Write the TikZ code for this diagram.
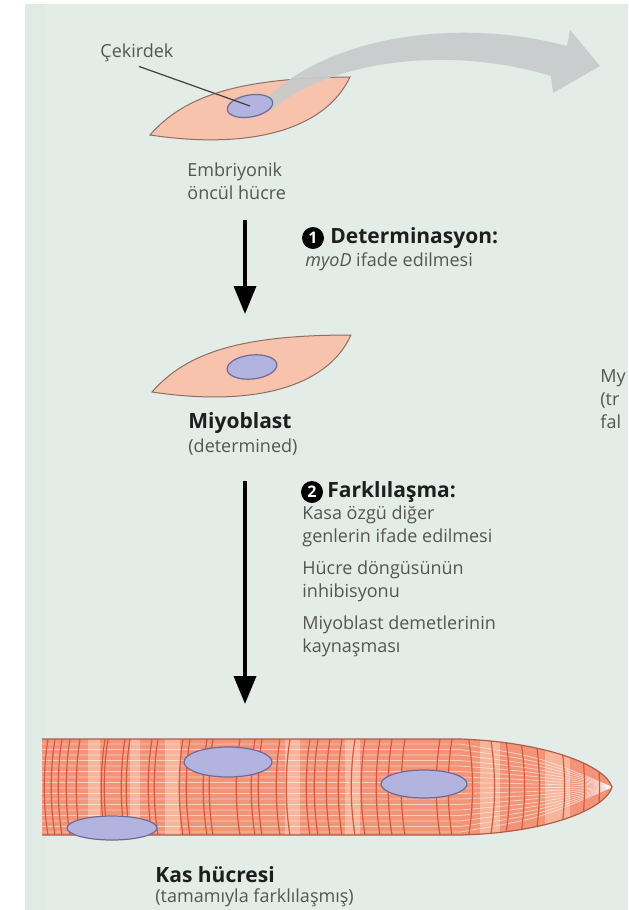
\documentclass[tikz,border=0pt]{standalone}
\usepackage{fontspec}
\setmainfont{Open Sans}
\usepackage{tikz}
\usetikzlibrary{arrows.meta, shapes.geometric}

\definecolor{bgcol}{HTML}{E3ECE6}
\definecolor{bgedge}{HTML}{DFEBE4}
\definecolor{txtgray}{HTML}{555555}
\definecolor{headcol}{HTML}{1E1E1E}
\definecolor{cellfill}{HTML}{F8C3AC}
\definecolor{celledge}{HTML}{8C6E64}
\definecolor{nucfill}{HTML}{B3B3E0}
\definecolor{nucedge}{HTML}{6E6A96}
\definecolor{fibfill}{HTML}{F29478}
\definecolor{fiblight}{HTML}{F9BEA4}
\definecolor{fibline}{HTML}{D9573E}
\definecolor{fibedge}{HTML}{B25C46}
\definecolor{graybow}{HTML}{C8CBCC}

\begin{document}
\begin{tikzpicture}[x=0.5pt, y=-0.5pt,
    txt/.style={anchor=west, inner sep=0pt, align=left, text=txtgray, font=\fontsize{9}{11.5}\selectfont},
    head/.style={anchor=west, inner sep=0pt, text=headcol, font=\fontsize{10.5}{12}\selectfont\bfseries},
    numdot/.style={circle, fill=black, text=white, inner sep=0pt, minimum size=11pt, font=\fontsize{8}{8}\selectfont\bfseries},
    cell/.style={fill=cellfill, draw=celledge, line width=0.5pt},
    nucleus/.style={ellipse, fill=nucfill, draw=nucedge, line width=0.6pt, inner sep=0pt},
    arr/.style={-{Triangle[length=14pt, width=11pt]}, line width=1.8pt},
    fibstripe/.style={draw=white, opacity=0.55, line width=0.4pt},
    fibband/.style={draw=fibline, line width=0.6pt},
]

% page and background
\useasboundingbox (0,0) rectangle (628,910);
\clip (0,0) rectangle (628,910);
\fill[white] (0,0) rectangle (628,910);
\fill[bgcol] (25,4) rectangle (628,910);
\fill[bgedge] (25,4) rectangle (45,910);

% embryonic precursor cell
\draw[cell] (150,135) .. controls (185,95) and (240,78) .. (350,77)
            .. controls (325,130) and (250,150) .. cycle;

% big gray arrow leaving the cell
\fill[graybow, opacity=0.92] (262,103) .. controls (320,40) and (450,15) .. (567,46)
    -- (570,30) -- (600,66) -- (553,93) -- (551,76)
    .. controls (450,45) and (330,60) .. (272,110) -- cycle;

\node[nucleus, minimum width=23pt, minimum height=11pt, rotate=10] (nuc1) at (250,106) {};
\node[txt] (nuclbl) at (100,53) {Çekirdek};
\draw[line width=0.6pt, black!75] (nuclbl.south) ++(2,4) coordinate (ptr) -- (nuc1.center);

\node[txt] (embtxt) at (187,181) {Embriyonik\\öncül hücre};

% step 1
\coordinate (a1top) at (245,220);
\coordinate (a1bot) at (245,314);
\draw[arr] (a1top) -- (a1bot);

\node[numdot] (n1) at (313,238) {1};
\node[head] (det) at (330,238) {Determinasyon:};
\node[txt] (myod) at (305,262) {\textit{myoD} ifade edilmesi};

% myoblast
\draw[cell] (152,392) .. controls (187,352) and (242,335) .. (351,335)
            .. controls (327,388) and (252,407) .. cycle;
\node[nucleus, minimum width=25pt, minimum height=12pt, rotate=6] (nuc2) at (252,367) {};

\node[head] (myo) at (188,423) {Miyoblast};
\node[txt] (myodet) at (188,447) {(determined)};

% text running off the right edge
\node[txt] (cut1) at (600,378) {My};
\node[txt] (cut2) at (600,400) {(tr};
\node[txt] (cut3) at (600,422) {fal};

% step 2
\coordinate (a2top) at (245,481);
\coordinate (a2bot) at (245,704);
\draw[arr] (a2top) -- (a2bot);

\node[numdot] (n2) at (312,492) {2};
\node[head] (fark) at (327,492) {Farklılaşma:};
\node[txt] (fk1) at (302,526) {Kasa özgü diğer\\genlerin ifade edilmesi};
\node[txt] (fk2) at (302,581) {Hücre döngüsünün\\inhibisyonu};
\node[txt] (fk3) at (302,636) {Miyoblast demetlerinin\\kaynaşması};

% muscle fiber
\begin{scope}
  \clip (42,739) -- (460,739) .. controls (545,742) and (605,765) .. (612,787)
        .. controls (605,810) and (545,833) .. (460,835) -- (42,835) -- cycle;
  \fill[fibfill] (40,735) rectangle (615,840);
  \foreach \xa/\xb in {88/100, 130/140, 165/180, 285/300, 345/360, 480/500, 545/570}
    \fill[fiblight, opacity=0.8] (\xa,735) rectangle (\xb,840);
  \foreach \y in {744,749.5,...,833}
    \draw[fibstripe] (42,\y) -- (460,\y) .. controls (540,{\y+(787-\y)*0.3}) .. (612,787);
  \foreach \x in {48,55,62,70,80,105,108,125,130,152,158,183,190,207,213,240,255,262,280,
                  290,310,318,330,342,355,365,380,392,405,440,452}
    \draw[fibband] (\x,739) .. controls (\x-5,770) and (\x-5,805) .. (\x,835);
  \foreach \x in {468,490,505,520,535,560,580,595}
    \draw[fibband] (\x,735) .. controls (\x+6,770) and (\x+6,805) .. (\x,840);
\end{scope}
\draw[draw=fibedge, line width=0.6pt] (42,739) -- (460,739) .. controls (545,742) and (605,765) .. (612,787)
      .. controls (605,810) and (545,833) .. (460,835) -- (42,835);

\node[nucleus, minimum width=44pt, minimum height=15pt] (fnuc1) at (228,762) {};
\node[nucleus, minimum width=43pt, minimum height=14pt] (fnuc2) at (424,784) {};
\node[nucleus, minimum width=45pt, minimum height=12pt] (fnuc3) at (112,828) {};

\node[head] (kas) at (155,875) {Kas hücresi};
\node[txt] (kasdet) at (155,898) {(tamamıyla farklılaşmış)};

\end{tikzpicture}
\end{document}
